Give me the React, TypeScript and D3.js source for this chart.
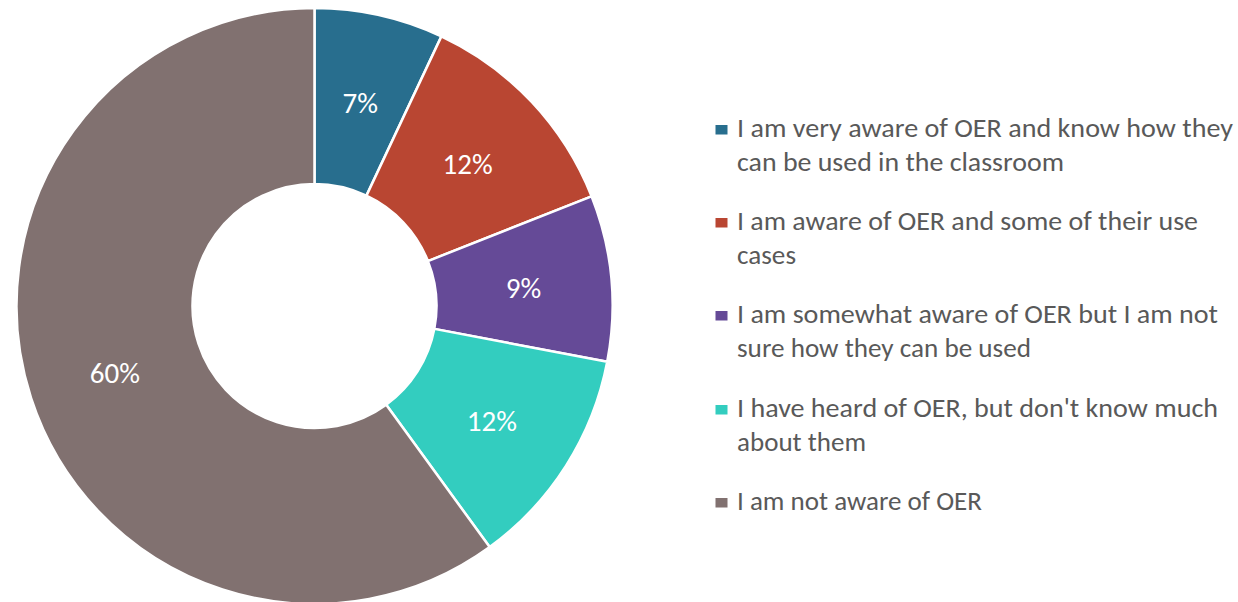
import React from "react";
import * as d3 from "d3";

const categories = [
  "I am very aware of OER and know how they can be used in the classroom",
  "I am aware of OER and some of their use cases",
  "I am somewhat aware of OER but I am not sure how they can be used",
  "I have heard of OER, but don't know much about them",
  "I am not aware of OER",
];
const values = [7, 12, 9, 12, 60];
const legendLines = [
  ["I am very aware of OER and know how they", "can be used in the classroom"],
  ["I am aware of OER and some of their use", "cases"],
  ["I am somewhat aware of OER but I am not", "sure how they can be used"],
  ["I have heard of OER, but don't know much", "about them"],
  ["I am not aware of OER"],
];
const legendLineWidths = [
  [496, 327],
  [461, 59],
  [481, 294],
  [481, 129],
  [245],
];
const colors = ["#286E8E", "#B94632", "#654A97", "#33CDBF", "#817170"];

const W = 1238;
const H = 602;
const cx = 314.5;
const cy = 306;
const outerR = 298;
const innerR = 122;
const font = "Carlito, Calibri, Lato, 'Open Sans', sans-serif";

export default function App() {
  const pie = d3
    .pie<number>()
    .value((d) => d)
    .sort(null);
  const arcs = pie(values);
  const arc = d3.arc<d3.PieArcDatum<number>>().innerRadius(innerR).outerRadius(outerR);
  const labelArc = d3
    .arc<d3.PieArcDatum<number>>()
    .innerRadius((innerR + outerR) / 2)
    .outerRadius((innerR + outerR) / 2);

  const legendStarts = [137, 230, 323, 417, 510];
  const lineH = 33.5;

  return (
    <svg
      width={W}
      height={H}
      style={{ position: "absolute", left: 0, top: 0, background: "#fff" }}
    >
      <g transform={`translate(${cx},${cy})`}>
        {arcs.map((a, i) => (
          <path key={i} d={arc(a) || ""} fill={colors[i]} stroke="#fff" strokeWidth={2.5} />
        ))}
        {arcs.map((a, i) => {
          const [x, y] = labelArc.centroid(a);
          return (
            <text
              key={"l" + i}
              x={x}
              y={y + 2}
              textAnchor="middle"
              dominantBaseline="central"
              fill="#fff"
              fontFamily={font}
              fontSize={29}
            >
              {values[i]}%
            </text>
          );
        })}
      </g>
      <g>
        {categories.map((c, i) => (
          <g key={c}>
            <rect x={715.5} y={legendStarts[i] - 12} width={12} height={9.5} fill={colors[i]} />
            {legendLines[i].map((ln, j) => (
              <text
                key={j}
                x={737}
                y={legendStarts[i] + j * lineH}
                fill="#595959"
                fontFamily={font}
                fontSize={27}
                textLength={legendLineWidths[i][j]}
                lengthAdjust="spacingAndGlyphs"
              >
                {ln}
              </text>
            ))}
          </g>
        ))}
      </g>
    </svg>
  );
}
